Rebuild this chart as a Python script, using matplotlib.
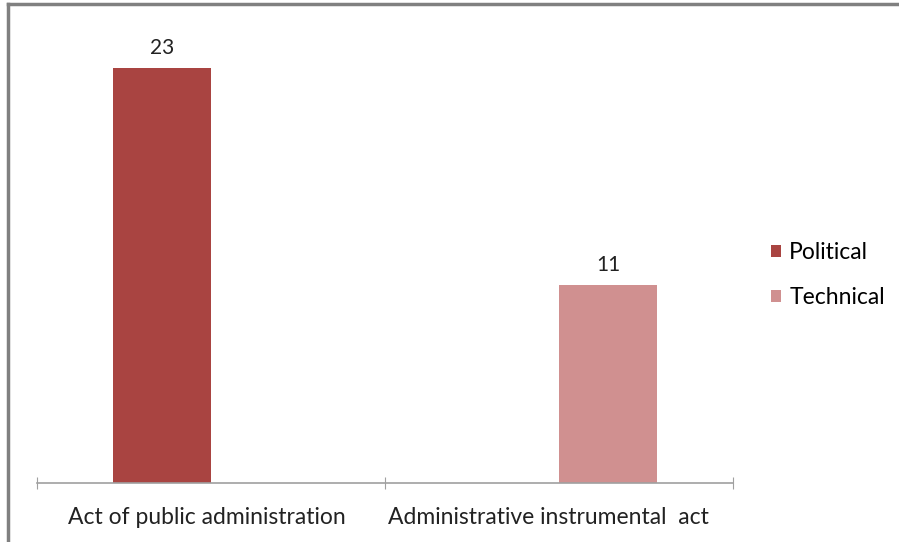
import matplotlib
matplotlib.use("Agg")
import matplotlib.pyplot as plt
from matplotlib.lines import Line2D
import numpy as np

categories = ["Act of public administration", "Administrative instrumental  act"]
series_names = ["Political", "Technical"]
political = [23, 0]
technical = [0, 11]
colors = ["#A94441", "#D09090"]

plt.rcParams['font.family'] = ['Lato', 'DejaVu Sans']

fig = plt.figure(figsize=(8.99, 5.42), dpi=100)
ax = fig.add_axes([37/899, 1-483/542, (733-37)/899, (483-32)/542])

x = np.arange(len(categories))
w = 0.282
off = 0.141
b1 = ax.bar(x - off, political, w, color=colors[0], label=series_names[0])
b2 = ax.bar(x + off, technical, w, color=colors[1], label=series_names[1])

for bars, vals in ((b1, political), (b2, technical)):
    for r, v in zip(bars, vals):
        if v:
            ax.text(r.get_x() + r.get_width()/2, v + 0.55, str(v), ha='center', va='bottom',
                    fontsize=15, color='#222222')

ax.set_xlim(-0.5, 1.5)
ax.set_ylim(0, 25)
for s in ['top', 'right', 'left']:
    ax.spines[s].set_visible(False)
ax.spines['bottom'].set_color('#A0A0A0')
ax.spines['bottom'].set_linewidth(1.2)
ax.set_yticks([])
ax.set_xticks([-0.5, 0.5, 1.5], minor=False)
ax.set_xticklabels([])
ax.tick_params(axis='x', direction='inout', length=8, color='#A0A0A0')
ax.set_xticks(x, minor=True)
ax.set_xticklabels(categories, minor=True, fontsize=16.5, color='#222222')
ax.tick_params(axis='x', which='minor', length=0, pad=17)
lbls = ax.get_xticklabels(minor=True)
from matplotlib.transforms import ScaledTranslation
lbls[0].set_transform(lbls[0].get_transform() + ScaledTranslation(-0.04, 0, fig.dpi_scale_trans))
lbls[1].set_transform(lbls[1].get_transform() + ScaledTranslation(-0.11, 0, fig.dpi_scale_trans))

ax.legend(handles=[b1, b2], labels=series_names, loc='center left', bbox_to_anchor=(771/899, 1-275/542),
          bbox_transform=fig.transFigure, frameon=False, fontsize=16.5, handlelength=0.45, handleheight=0.45,
          handletextpad=0.35, labelspacing=1.05, borderaxespad=0, borderpad=0)

fig.add_artist(Line2D([8/899, 1], [1-4/542, 1-4/542], color='#808080', lw=2.5, transform=fig.transFigure))
fig.add_artist(Line2D([8/899, 8/899], [0, 1-4/542], color='#808080', lw=2.5, transform=fig.transFigure))

fig.savefig("out.png", dpi=100)
